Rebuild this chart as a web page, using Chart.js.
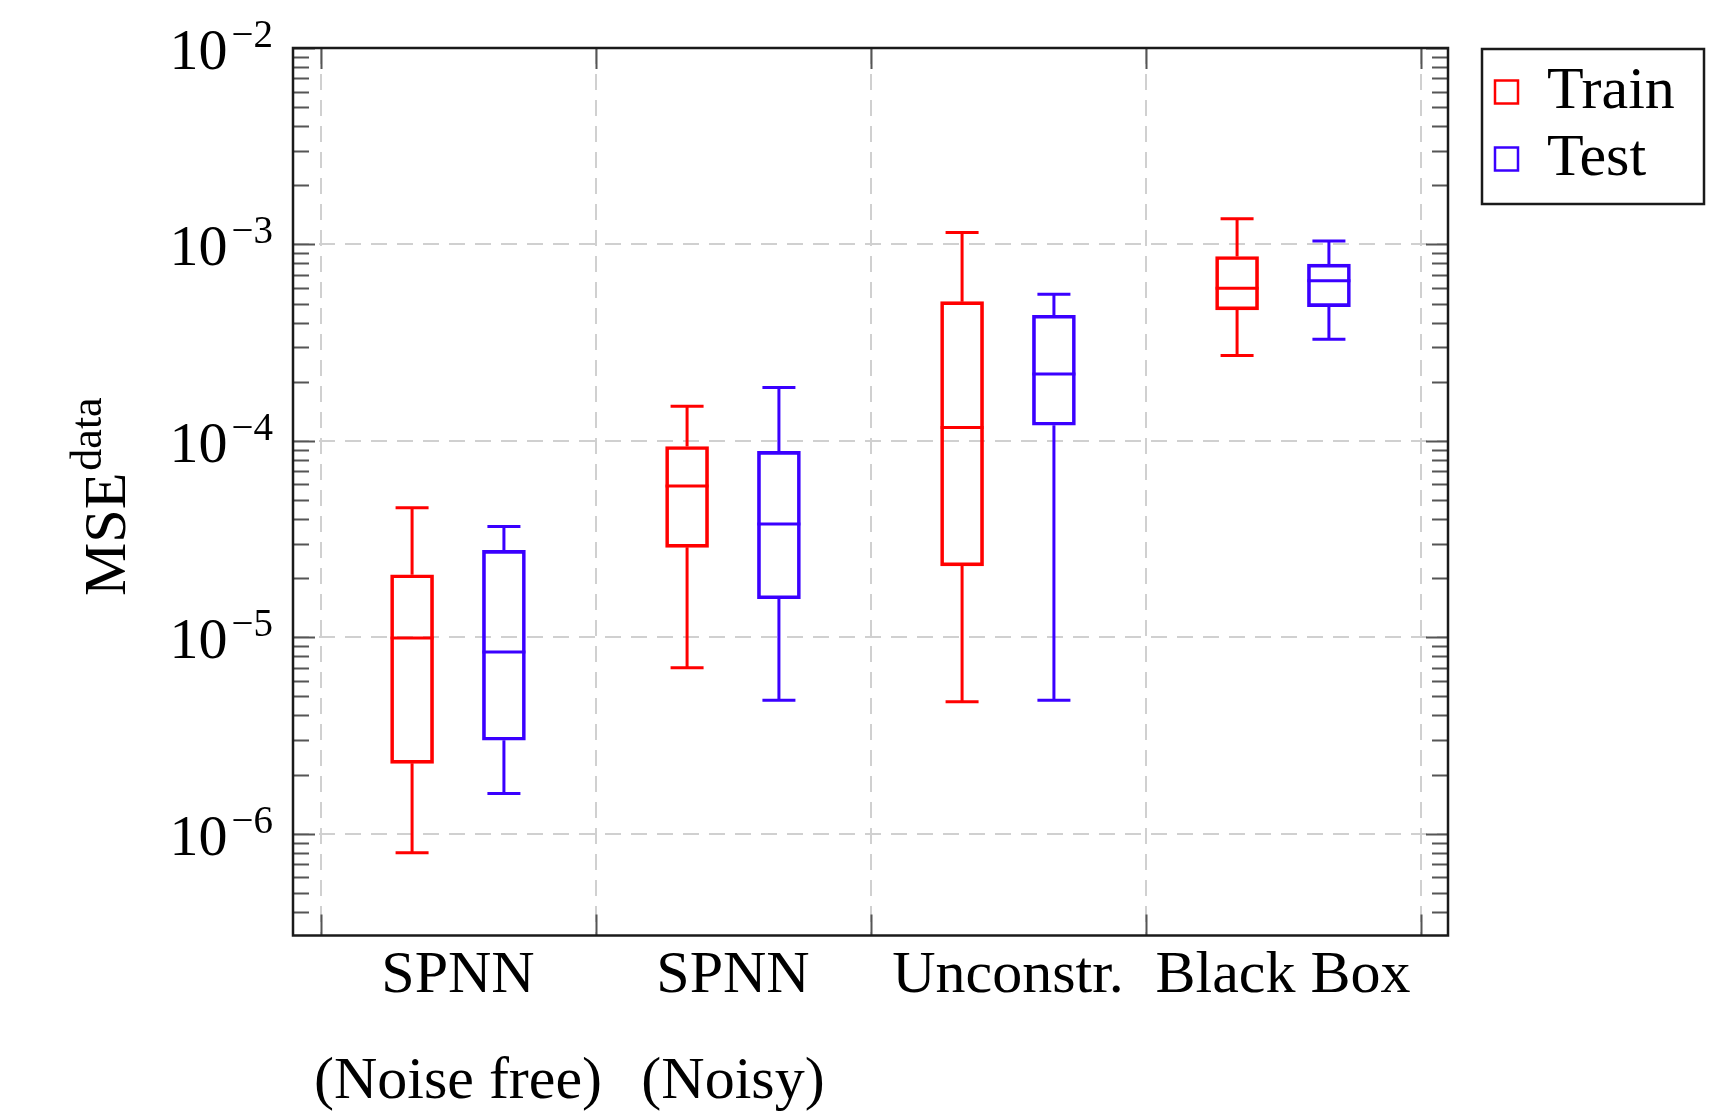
<!DOCTYPE html>
<html>
<head>
<meta charset="utf-8">
<script src="https://cdn.jsdelivr.net/npm/chart.js@4/dist/chart.umd.min.js"></script>
<style>
  html, body { margin: 0; padding: 0; background: #fff; }
  #wrap { width: 1736px; height: 1115px; }
</style>
</head>
<body>
<div id="wrap"><canvas id="box-chart" width="1736" height="1115"></canvas></div>
<script>
// categories and five-number summaries (log scale)
const categories = [['SPNN', '(Noise free)'], ['SPNN', '(Noisy)'], 'Unconstr.', 'Black Box'];
const seriesNames = ['Train', 'Test'];

const trainMin = [8.0e-7, 7.0e-6, 4.7e-6, 2.72e-4];
const trainQ1  = [2.28e-6, 2.87e-5, 2.31e-5, 4.64e-4];
const trainMed = [9.9e-6, 5.88e-5, 1.17e-4, 5.98e-4];
const trainQ3  = [2.08e-5, 9.36e-5, 5.11e-4, 8.68e-4];
const trainMax = [4.56e-5, 1.50e-4, 1.15e-3, 1.35e-3];

const testMin = [1.6e-6, 4.78e-6, 4.78e-6, 3.29e-4];
const testQ1  = [2.99e-6, 1.57e-5, 1.20e-4, 4.82e-4];
const testMed = [8.41e-6, 3.77e-5, 2.19e-4, 6.54e-4];
const testQ3  = [2.77e-5, 8.83e-5, 4.36e-4, 7.93e-4];
const testMax = [3.66e-5, 1.87e-4, 5.58e-4, 1.04e-3];

const yTickExponents = [-6, -5, -4, -3, -2];
const yRange = [3.03e-7, 1e-2];

const FONT = '"Liberation Serif", "Times New Roman", serif';
const colors = ['#ff0000', '#3a00ff'];
const gridColor = '#d0d0d0';
const boxOffset = 0.167;   // shift of train / test box from category centre

function boxData(q1, q3, side) {
    return q1.map((v, i) => ({ x: i + 0.5 + side * boxOffset, y: [v, q3[i]] }));
}

const datasets = [
    { label: seriesNames[0], data: boxData(trainQ1, trainQ3, -1), borderColor: colors[0],
      stats: { min: trainMin, med: trainMed, max: trainMax, q1: trainQ1, q3: trainQ3 } },
    { label: seriesNames[1], data: boxData(testQ1, testQ3, 1), borderColor: colors[1],
      stats: { min: testMin, med: testMed, max: testMax, q1: testQ1, q3: testQ3 } }
];
datasets.forEach(ds => {
    ds.backgroundColor = 'rgba(0,0,0,0)';
    ds.borderWidth = 3;
    ds.borderSkipped = false;
    ds.barThickness = 43;
    ds.grouped = false;
});

const isDecade = v => Math.abs(Math.log10(v) - Math.round(Math.log10(v))) < 1e-9;

// whiskers, medians, frame, inward ticks, y labels, y title, legend
const boxPlotExtras = {
    id: 'boxPlotExtras',
    afterDatasetsDraw(chart) {
        const y = chart.scales.y;
        const ctx = chart.ctx;
        chart.data.datasets.forEach((ds, d) => {
            const meta = chart.getDatasetMeta(d);
            ctx.save();
            ctx.strokeStyle = ds.borderColor;
            ctx.lineWidth = 3;
            meta.data.forEach((bar, i) => {
                const x = bar.x, half = bar.width / 2, cap = 16.5;
                const pMin = y.getPixelForValue(ds.stats.min[i]);
                const pMax = y.getPixelForValue(ds.stats.max[i]);
                const pQ1 = y.getPixelForValue(ds.stats.q1[i]);
                const pQ3 = y.getPixelForValue(ds.stats.q3[i]);
                const pMed = y.getPixelForValue(ds.stats.med[i]);
                ctx.beginPath();
                ctx.moveTo(x, pQ3); ctx.lineTo(x, pMax);
                ctx.moveTo(x, pQ1); ctx.lineTo(x, pMin);
                ctx.moveTo(x - cap, pMax); ctx.lineTo(x + cap, pMax);
                ctx.moveTo(x - cap, pMin); ctx.lineTo(x + cap, pMin);
                ctx.moveTo(x - half, pMed); ctx.lineTo(x + half, pMed);
                ctx.stroke();
            });
            ctx.restore();
        });
    },
    afterDraw(chart) {
        const ctx = chart.ctx;
        const { left, right, top, bottom } = chart.chartArea;
        const x = chart.scales.x, y = chart.scales.y;
        ctx.save();

        // inward tick marks
        ctx.strokeStyle = '#555';
        ctx.lineWidth = 2;
        ctx.beginPath();
        y.ticks.forEach(t => {
            const py = Math.round(y.getPixelForValue(t.value)) + 0.5;
            const len = isDecade(t.value) ? 22 : 16;
            ctx.moveTo(left, py); ctx.lineTo(left + len, py);
            ctx.moveTo(right, py); ctx.lineTo(right - len, py);
        });
        x.ticks.forEach(t => {
            if (t.value % 1 !== 0) return;
            const px = Math.round(x.getPixelForValue(t.value)) + 0.5;
            ctx.moveTo(px, bottom); ctx.lineTo(px, bottom - 21);
            ctx.moveTo(px, top); ctx.lineTo(px, top + 21);
        });
        ctx.stroke();

        // frame
        ctx.strokeStyle = '#1a1a1a';
        ctx.lineWidth = 2.5;
        ctx.strokeRect(left, top, right - left, bottom - top);

        // y tick labels 10^n
        ctx.fillStyle = '#000';
        ctx.textBaseline = 'alphabetic';
        ctx.textAlign = 'right';
        y.ticks.forEach(t => {
            if (!isDecade(t.value)) return;
            const py = y.getPixelForValue(t.value);
            const e = Math.round(Math.log10(t.value));
            const exp = (e < 0 ? '\u2212' : '') + Math.abs(e);
            const xr = left - 20;
            ctx.font = '39px ' + FONT;
            ctx.fillText(exp, xr, py - 1);
            const ew = ctx.measureText(exp).width;
            ctx.font = '58px ' + FONT;
            ctx.fillText('10', xr - ew - 4, py + 21);
        });

        // y title MSE^data
        ctx.save();
        ctx.translate(125, 596);
        ctx.rotate(-Math.PI / 2);
        ctx.textAlign = 'left';
        ctx.font = '60px ' + FONT;
        ctx.fillText('MSE', 0, 0);
        const mw = ctx.measureText('MSE').width;
        ctx.font = '44px ' + FONT;
        ctx.fillText('data', mw + 2, -24);
        ctx.restore();

        // legend box
        const lx = 1482, ly = 49, lw = 222, lh = 155;
        ctx.strokeStyle = '#1a1a1a';
        ctx.lineWidth = 2.5;
        ctx.strokeRect(lx, ly, lw, lh);
        ctx.textAlign = 'left';
        ctx.font = '60px ' + FONT;
        chart.data.datasets.forEach((ds, d) => {
            const cy = 91.5 + d * 67;
            ctx.strokeStyle = ds.borderColor;
            ctx.lineWidth = 2.5;
            ctx.strokeRect(lx + 13, cy - 11, 23, 23);
            ctx.fillStyle = '#000';
            ctx.fillText(ds.label, lx + 65, cy + 16.5);
        });
        ctx.restore();
    }
};

const ctx = document.getElementById('box-chart').getContext('2d');
new Chart(ctx, {
    type: 'bar',
    data: { datasets: datasets },
    plugins: [boxPlotExtras],
    options: {
        responsive: false,
        animation: false,
        devicePixelRatio: 1,
        layout: { padding: { left: 293, right: 288, top: 48, bottom: 0 } },
        plugins: { legend: { display: false }, tooltip: { enabled: false } },
        scales: {
            x: {
                type: 'linear',
                min: -0.1,
                max: 4.1,
                offset: false,
                afterBuildTicks: axis => {
                    const t = [];
                    for (let v = 0; v <= categories.length; v += 0.5) t.push({ value: v });
                    axis.ticks = t;
                },
                afterFit: axis => { axis.height = 179.5; },
                border: { display: false, dash: [16, 10] },
                grid: {
                    offset: false,
                    drawTicks: false,
                    lineWidth: 2,
                    color: c => (c.tick && c.tick.value % 1 === 0) ? gridColor : 'rgba(0,0,0,0)'
                },
                ticks: {
                    autoSkip: false,
                    maxRotation: 0,
                    minRotation: 0,
                    padding: -13,
                    color: '#000',
                    font: { family: FONT, size: 60, lineHeight: 1.78 },
                    callback: v => (v % 1 === 0.5) ? categories[v - 0.5] : ''
                }
            },
            y: {
                type: 'logarithmic',
                min: yRange[0],
                max: yRange[1],
                afterBuildTicks: axis => {
                    const t = [];
                    yTickExponents.forEach(e => {
                        for (let m = 1; m <= 9; m++) {
                            const v = m * Math.pow(10, e - 1);
                            if (v >= yRange[0] && v <= yRange[1] * 1.0001) t.push({ value: v });
                        }
                    });
                    t.push({ value: Math.pow(10, yTickExponents[yTickExponents.length - 1]) });
                    axis.ticks = t;
                },
                afterFit: axis => { axis.width = 0; },
                border: { display: false, dash: [16, 10] },
                grid: {
                    drawTicks: false,
                    lineWidth: 2,
                    color: c => (c.tick && isDecade(c.tick.value)) ? gridColor : 'rgba(0,0,0,0)'
                },
                ticks: { display: false }
            }
        }
    }
});
</script>
</body>
</html>
